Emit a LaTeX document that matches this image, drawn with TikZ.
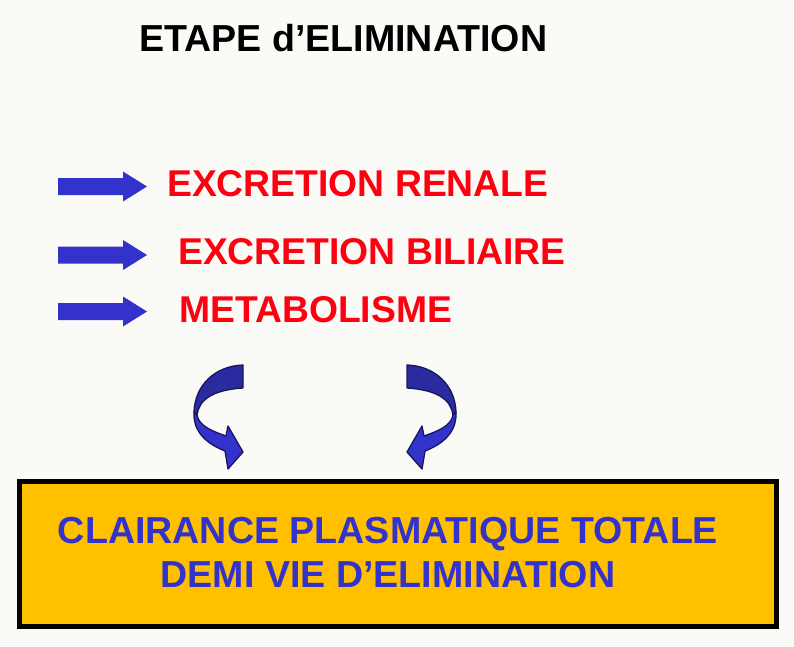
\documentclass[tikz,border=0pt]{standalone}
\usepackage{fontspec}
\setmainfont{Liberation Sans}
\definecolor{arrowblue}{HTML}{3333CC}
\definecolor{curldark}{HTML}{2B2BA0}
\definecolor{curledge}{HTML}{16165C}
\definecolor{textred}{HTML}{FF0010}
\definecolor{boxorange}{HTML}{FFC000}
\definecolor{paper}{HTML}{FAFAF6}
\def\drawBlockArrow{
\coordinate (S1) at (58,-8.5);
\coordinate (S2) at (123,-8.5);
\coordinate (S3) at (123,-15);
\coordinate (S4) at (147,0);
\coordinate (S5) at (123,15);
\coordinate (S6) at (123,8.5);
\coordinate (S7) at (58,8.5);
\fill[arrowblue] (S1) -- (S2) -- (S3) -- (S4) -- (S5) -- (S6) -- (S7) -- cycle;
}
\def\drawCurl{
\coordinate (T1) at (243,365);
\coordinate (T2) at (243,388);
\coordinate (L1) at (194,412);
\coordinate (L2) at (197,415);
\coordinate (J1) at (226,436);
\coordinate (J2) at (225,451);
\coordinate (H1) at (228,426);
\coordinate (H2) at (243,452);
\coordinate (H3) at (228,469);
\filldraw[curldark, draw=curledge, line width=1.3pt, line join=round] (T1) .. controls (215,366) and (195,385) .. (L1) -- (L2) .. controls (199,400) and (212,390) .. (T2) -- cycle;
\filldraw[arrowblue, draw=curledge, line width=1.3pt, line join=round] (L1) .. controls (193,428) and (202,442) .. (J2) -- (H3) -- (H2) -- (H1) -- (J1) .. controls (212,431) and (199,426) .. (L2) -- cycle;
}

\begin{document}
\begin{tikzpicture}[x=1pt, y=-1pt,
    title/.style={inner sep=0pt, anchor=base west, font=\bfseries\fontsize{37.6}{44}\selectfont},
    redlabel/.style={title, text=textred, font=\bfseries\fontsize{37.3}{44}\selectfont},
    boxlabel/.style={inner sep=0pt, anchor=base, text=arrowblue, font=\bfseries\fontsize{37.6}{44}\selectfont}]
	\fill[paper] (0,0) rectangle (794,646);
	\useasboundingbox (0,0) rectangle (794,646);
	\node[title] (etape) at (139,51) {ETAPE d’ELIMINATION};
	% elimination routes
	\begin{scope}[yshift=-186.5pt]
	\drawBlockArrow
	\end{scope}
	\begin{scope}[yshift=-255pt]
	\drawBlockArrow
	\end{scope}
	\begin{scope}[yshift=-311.5pt]
	\drawBlockArrow
	\end{scope}
	\node[redlabel] (renale) at (167,196) {EXCRETION RENALE};
	\node[redlabel] (biliaire) at (178,264) {EXCRETION BILIAIRE};
	\node[redlabel] (metab) at (179,322) {METABOLISME};
	% curved arrows
	\drawCurl
	\begin{scope}[xshift=650pt, xscale=-1]
	\drawCurl
	\end{scope}
	% result box
	\node[draw, line width=5pt, fill=boxorange, inner sep=0pt, minimum width=757pt, minimum height=145pt] (box) at (398,554) {};
	\node[boxlabel] (clairance) at (388,543) {CLAIRANCE PLASMATIQUE TOTALE};
	\node[boxlabel] (demivie) at (388,587) {DEMI VIE D’ELIMINATION};
\end{tikzpicture}
\end{document}
